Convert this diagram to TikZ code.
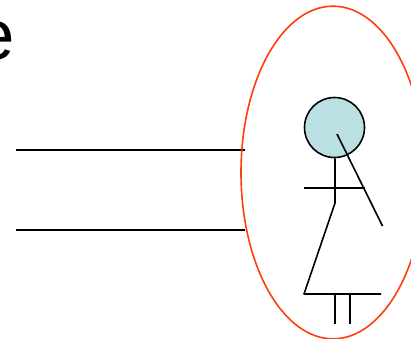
\documentclass[tikz,border=0pt]{standalone}
\usepackage{xcolor}
\usepackage{fontspec}
\setmainfont{Liberation Sans}
\usetikzlibrary{shapes.geometric, positioning}
\definecolor{halo}{RGB}{255,62,14}
\definecolor{skin}{RGB}{186,224,228}

\begin{document}
\begin{tikzpicture}[
    x=0.75pt, y=-0.75pt,
    bodyline/.style={draw=black, line width=1.2pt, line join=round},
    halobox/.style={ellipse, draw=halo, line width=1.2pt, minimum width=138pt, minimum height=249.5pt, inner sep=0pt},
    headbox/.style={circle, draw=black, fill=skin, line width=1.2pt, minimum size=45pt, inner sep=0pt},
    wordbox/.style={inner sep=0pt, anchor=base east, font=\fontsize{53pt}{53pt}\selectfont}
]
\useasboundingbox (0,0) rectangle (411,339);
\clip (0,0) rectangle (411,339);

\node[wordbox] (word) at (15,59) {e};

\coordinate (wireAin) at (16,150);
\coordinate (wireAout) at (245,150);
\coordinate (wireBin) at (16,230);
\coordinate (wireBout) at (245,230);
\draw[bodyline] (wireAin) -- (wireAout);
\draw[bodyline] (wireBin) -- (wireBout);

\node[halobox] (halo) at (333,172.5) {};
\node[headbox] (head) at (334.5,127.5) {};

\coordinate (waist) at (335,203);
\coordinate (hemL) at (304,294);
\coordinate (hemR) at (381,294);
\draw[bodyline] (head.south -| waist) -- (waist) -- (hemL) -- (hemR);

\coordinate (armL) at (304,188);
\coordinate (armR) at (365,188);
\draw[bodyline] (armL) -- (armR);

\coordinate (sleeveA) at (337,134);
\coordinate (sleeveB) at (382.5,226);
\draw[bodyline] (sleeveA) -- (sleeveB);

\coordinate (legAtop) at (335,294);
\coordinate (legAend) at (335,324);
\coordinate (legBtop) at (350,294);
\coordinate (legBend) at (350,324);
\draw[bodyline] (legAtop) -- (legAend);
\draw[bodyline] (legBtop) -- (legBend);

\end{tikzpicture}
\end{document}
